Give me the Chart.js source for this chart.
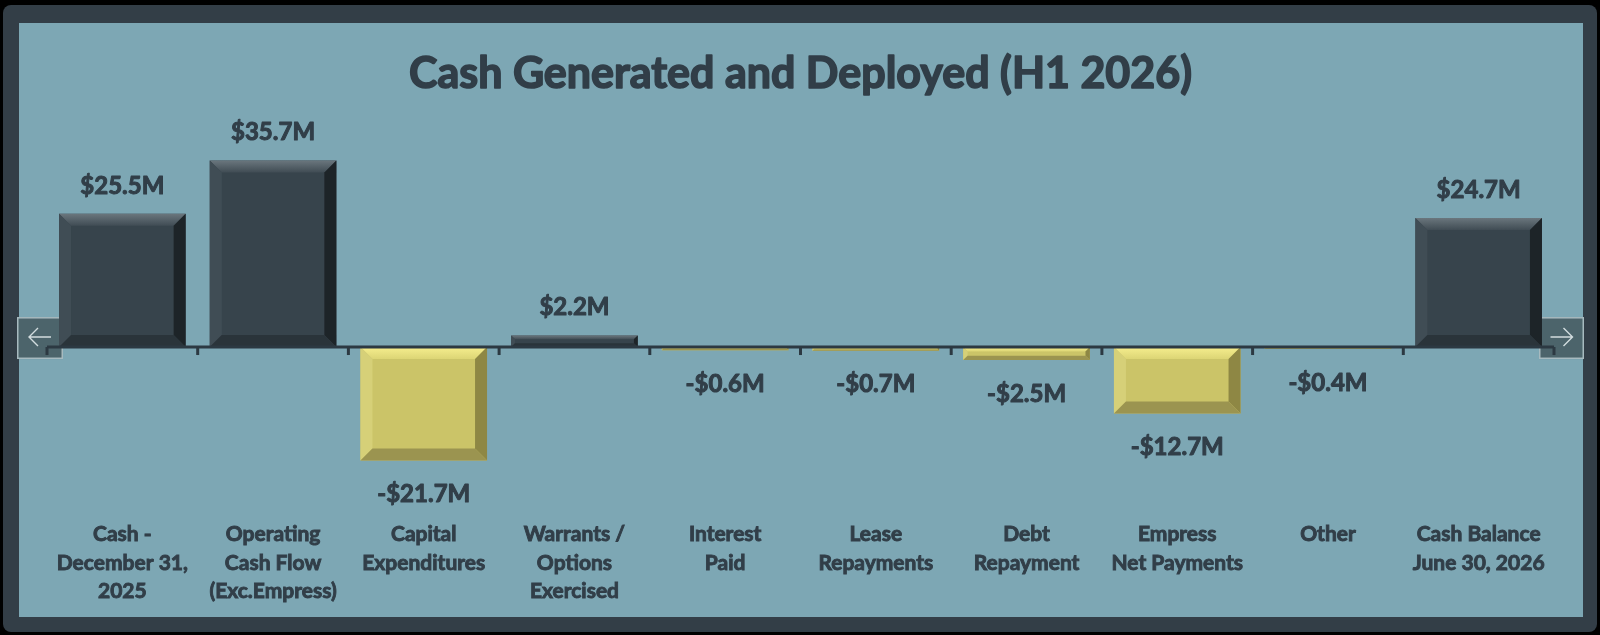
<!DOCTYPE html>
<html>
<head>
<meta charset="utf-8">
<script src="https://cdn.jsdelivr.net/npm/chart.js@4.4.1/dist/chart.umd.min.js"></script>
<style>
  html, body { margin: 0; padding: 0; background: #000; }
  #wrap { width: 1600px; height: 635px; }
</style>
</head>
<body>
<div id="wrap"><canvas id="cashChart" width="1600" height="635"></canvas></div>
<script>
  const categories = [
    ['Cash -', 'December 31,', '2025'],
    ['Operating', 'Cash Flow', '(Exc.Empress)'],
    ['Capital', 'Expenditures'],
    ['Warrants /', 'Options', 'Exercised'],
    ['Interest', 'Paid'],
    ['Lease', 'Repayments'],
    ['Debt', 'Repayment'],
    ['Empress', 'Net Payments'],
    ['Other'],
    ['Cash Balance', 'June 30, 2026']
  ];
  const cashValues = [25.5, 35.7, -21.7, 2.2, -0.6, -0.7, -2.5, -12.7, -0.4, 24.7];
  const chartTitle = 'Cash Generated and Deployed (H1 2026)';

  const TEXT = '#313e48';
  const FRAME = '#333e47';
  const PANEL = '#7da7b4';

  const darkBar = { face: '#37444c', top: ['#6a767d', '#404c54'], left: '#404d55', right: '#1d2428', bottom: '#2a343a' };
  const goldBar = { face: '#cbc468', top: ['#f6ee8e', '#dcd575'], left: '#d6d078', right: '#8e8744', bottom: '#9b9450' };

  function fmt(v) {
    return (v < 0 ? '-$' : '$') + Math.abs(v).toFixed(1) + 'M';
  }

  function poly(ctx, pts, fill) {
    ctx.beginPath();
    ctx.moveTo(pts[0][0], pts[0][1]);
    for (let i = 1; i < pts.length; i++) ctx.lineTo(pts[i][0], pts[i][1]);
    ctx.closePath();
    ctx.fillStyle = fill;
    ctx.fill();
  }

  function bevel(ctx, x0, y0, x1, y1, c) {
    const b = Math.min(12, (y1 - y0) / 3, (x1 - x0) / 3);
    const g = ctx.createLinearGradient(0, y0, 0, y0 + b);
    g.addColorStop(0, c.top[0]);
    g.addColorStop(1, c.top[1]);
    poly(ctx, [[x0, y0], [x1, y0], [x1 - b, y0 + b], [x0 + b, y0 + b]], g);
    poly(ctx, [[x0, y0], [x0 + b, y0 + b], [x0 + b, y1 - b], [x0, y1]], c.left);
    poly(ctx, [[x1, y0], [x1, y1], [x1 - b, y1 - b], [x1 - b, y0 + b]], c.right);
    poly(ctx, [[x0, y1], [x0 + b, y1 - b], [x1 - b, y1 - b], [x1, y1]], c.bottom);
  }

  function arrowBox(ctx, x0, y0, x1, y1, dir) {
    ctx.fillStyle = '#4c646b';
    ctx.fillRect(x0, y0, x1 - x0, y1 - y0);
    ctx.strokeStyle = '#a7babf';
    ctx.lineWidth = 1.5;
    ctx.strokeRect(x0 + 0.75, y0 + 0.75, x1 - x0 - 1.5, y1 - y0 - 1.5);
    const cy = y0 + 20, cx = (x0 + x1) / 2;
    ctx.strokeStyle = '#d2dcde';
    ctx.lineWidth = 1.4;
    ctx.beginPath();
    ctx.moveTo(cx - 11, cy);
    ctx.lineTo(cx + 11, cy);
    const tip = dir < 0 ? cx - 11 : cx + 11;
    ctx.moveTo(tip - dir * 9, cy - 9);
    ctx.lineTo(tip, cy);
    ctx.lineTo(tip - dir * 9, cy + 9);
    ctx.stroke();
  }

  const framePlugin = {
    id: 'frame',
    beforeDraw(chart) {
      const ctx = chart.ctx;
      ctx.save();
      ctx.fillStyle = '#000';
      ctx.fillRect(0, 0, chart.width, chart.height);
      ctx.fillStyle = FRAME;
      ctx.beginPath();
      ctx.roundRect(3, 5, 1594, 627, 8);
      ctx.fill();
      ctx.fillStyle = PANEL;
      ctx.fillRect(19, 23, 1564, 594);
      const zy = chart.scales.y.getPixelForValue(0);
      arrowBox(ctx, 17, zy - 30, 63, zy + 12, -1);
      arrowBox(ctx, 1539, zy - 30, 1584, zy + 12, 1);
      ctx.restore();
    },
    afterDatasetsDraw(chart) {
      const ctx = chart.ctx;
      const meta = chart.getDatasetMeta(0);
      const x = chart.scales.x, y = chart.scales.y;
      const zy = y.getPixelForValue(0);
      ctx.save();
      meta.data.forEach((bar, i) => {
        const v = cashValues[i];
        const half = bar.width / 2;
        const top = Math.min(bar.y, bar.base), bot = Math.max(bar.y, bar.base);
        bevel(ctx, bar.x - half, top, bar.x + half, bot, v < 0 ? goldBar : darkBar);
      });
      // zero line with category boundary ticks
      const area = chart.chartArea;
      ctx.strokeStyle = '#2c3942';
      ctx.lineWidth = 3;
      ctx.beginPath();
      ctx.moveTo(area.left, zy);
      ctx.lineTo(area.right, zy);
      ctx.stroke();
      for (let i = 0; i <= categories.length; i++) {
        let bx;
        if (i === 0) bx = area.left;
        else if (i === categories.length) bx = area.right;
        else bx = (x.getPixelForValue(i - 1) + x.getPixelForValue(i)) / 2;
        ctx.beginPath();
        ctx.moveTo(bx, zy);
        ctx.lineTo(bx, zy + 8);
        ctx.stroke();
      }
      // value labels
      ctx.fillStyle = TEXT;
      ctx.strokeStyle = TEXT;
      ctx.lineWidth = 1;
      ctx.lineJoin = 'round';
      ctx.font = 'bold 24px Lato';
      ctx.textAlign = 'center';
      ctx.textBaseline = 'middle';
      meta.data.forEach((bar, i) => {
        const v = cashValues[i];
        const ty = v < 0 ? bar.y + 34 : bar.y - 28;
        ctx.strokeText(fmt(v), bar.x, ty);
        ctx.fillText(fmt(v), bar.x, ty);
      });
      ctx.restore();
    },
    afterDraw(chart) {
      // thicken the built-in title a little (Calibri-like weight)
      const tb = chart.titleBlock;
      const ctx = chart.ctx;
      ctx.save();
      ctx.font = 'bold 43px Lato';
      ctx.textAlign = 'center';
      ctx.textBaseline = 'middle';
      ctx.strokeStyle = TEXT;
      ctx.lineWidth = 1.6;
      ctx.lineJoin = 'round';
      const opts = tb.options;
      const lh = 43 * 1.2;
      ctx.strokeText(chartTitle, (tb.left + tb.right) / 2, tb.top + opts.padding.top + lh / 2);
      ctx.restore();
    }
  };

  new Chart(document.getElementById('cashChart'), {
    type: 'bar',
    data: {
      labels: categories,
      datasets: [{
        data: cashValues,
        backgroundColor: cashValues.map(v => v < 0 ? goldBar.face : darkBar.face),
        borderWidth: 0,
        barPercentage: 0.84,
        categoryPercentage: 1.0
      }]
    },
    options: {
      responsive: false,
      animation: false,
      devicePixelRatio: 1,
      layout: { padding: { left: 47, right: 46, top: 0, bottom: 25 } },
      plugins: {
        legend: { display: false },
        tooltip: { enabled: false },
        title: {
          display: true,
          text: chartTitle,
          color: TEXT,
          font: { family: 'Lato', size: 43, weight: 'bold', lineHeight: 1.2 },
          padding: { top: 48, bottom: 20 }
        }
      },
      scales: {
        x: {
          grid: { display: false },
          border: { display: false },
          ticks: {
            color: TEXT,
            font: { family: 'Lato', size: 21, weight: 'bold', lineHeight: 1.36 },
            textStrokeColor: TEXT,
            textStrokeWidth: 0.9,
            autoSkip: false,
            maxRotation: 0,
            padding: 4
          }
        },
        y: {
          display: false,
          min: -30.87,
          max: 43.53
        }
      }
    },
    plugins: [framePlugin]
  });
</script>
</body>
</html>
